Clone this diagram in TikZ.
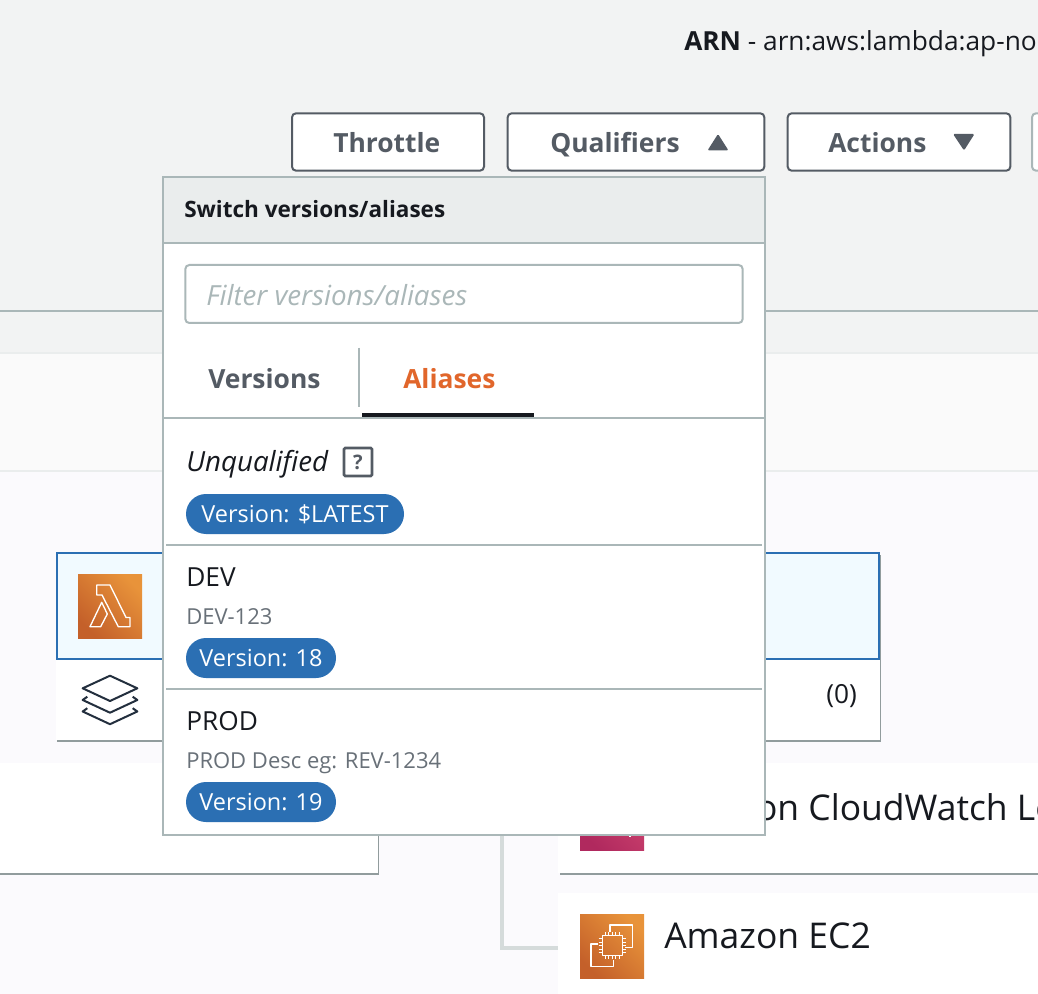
\documentclass[tikz,border=0pt]{standalone}
\usepackage{fontspec}
\setmainfont{Open Sans}
\usepackage{xcolor}
\usetikzlibrary{shadows}
\definecolor{panelgray}{HTML}{F2F3F3}
\definecolor{bandgray}{HTML}{FAFAFA}
\definecolor{lavender}{HTML}{FBFAFD}
\definecolor{edgegray}{HTML}{AAB7B8}
\definecolor{softline}{HTML}{EAEDED}
\definecolor{linkgray}{HTML}{D5DBDB}
\definecolor{shadowgray}{HTML}{7F8C8D}
\definecolor{inkdark}{HTML}{16191F}
\definecolor{inkgray}{HTML}{545B64}
\definecolor{descgray}{HTML}{687078}
\definecolor{awsblue}{HTML}{2B6FB3}
\definecolor{selblue}{HTML}{F1FAFF}
\definecolor{taborange}{HTML}{E1662B}
\definecolor{iconnavy}{HTML}{232F3E}
\definecolor{orangelo}{HTML}{C4602A}
\definecolor{orangehi}{HTML}{E8933A}
\definecolor{pinklo}{HTML}{B0295E}
\definecolor{pinkhi}{HTML}{CF4570}

\begin{document}
\begin{tikzpicture}[
  x=0.75pt, y=-0.75pt,
  txt/.style={inner sep=0pt, anchor=base west, text=inkdark},
  body/.style={txt, font=\fontsize{19.7}{23}\selectfont},
  small/.style={txt, text=descgray, font=\fontsize{16.5}{20}\selectfont},
  big/.style={txt, font=\fontsize{26.6}{32}\selectfont},
  btntxt/.style={txt, text=inkgray, font=\fontsize{19.8}{24}\selectfont\bfseries},
  btn/.style={draw=inkgray, line width=1.5pt, rounded corners=3pt, fill=white, inner sep=0pt, minimum height=43pt},
  pill/.style={fill=awsblue, text=white, rounded corners=15pt, inner sep=0pt, minimum height=30pt,
               text height=13pt, text depth=0pt, font=\fontsize{17.6}{20}\selectfont},
  card/.style={fill=white, inner sep=0pt, drop shadow={shadow xshift=1pt, shadow yshift=-1.5pt, fill=shadowgray, opacity=0.85}},
  sep/.style={edgegray, line width=1.5pt},
  glyph/.style={draw=white, line width=1pt, line join=round},
  iconorange/.style={minimum size=48pt, inner sep=0pt, bottom color=orangelo, top color=orangehi, shading angle=-45},
  iconpink/.style={minimum size=48pt, inner sep=0pt, bottom color=pinklo, top color=pinkhi, shading angle=-45}
]
\path[use as bounding box, clip] (0,0) rectangle (1038,994);

% page bands
\fill[panelgray] (0,0) rectangle (1038,353);
\fill[softline] (0,352) rectangle (1038,354);
\fill[bandgray] (0,354) rectangle (1038,470);
\fill[softline] (0,470) rectangle (1038,472);
\fill[lavender] (0,472) rectangle (1038,994);
\draw[sep] (0,311) -- (1038,311);

% header
\node[body] (arn) at (684,51) {\textbf{ARN} - arn:aws:lambda:ap-northeast-1};
\node[btn, minimum width=144pt] (throttle) at (388,142) {};
\node[btntxt] (throttletxt) at (333,152.5) {Throttle};
\node[btn, minimum width=192.5pt] (qualbtn) at (636,142) {};
\node[btntxt] (qualtxt) at (550,152.5) {Qualifiers};
\node[btn, minimum width=167pt] (actbtn) at (899,142) {};
\node[btntxt] (acttxt) at (828,152.5) {Actions};
\node[btn, draw=edgegray, minimum width=60pt] (morebtn) at (1072,142) {};
\fill[inkgray, rounded corners=1pt] (718,134) -- (728.5,150.5) -- (707.5,150.5) -- cycle;
\fill[inkgray, rounded corners=1pt] (953,134) -- (974.5,134) -- (964,150.5) -- cycle;

% function card
\node[card, minimum width=618pt, minimum height=140pt] (fncard) at (468,646.5) {};
\node[draw=awsblue, line width=1.5pt, fill=selblue, inner sep=0pt, minimum width=617pt, minimum height=79pt] (fnhead) at (468,606) {};
\node[iconorange] (lambda) at (110,606) {};
\draw[glyph] (96.7,585) -- (110,585) -- (126,617.5) -- (130,617.5) -- (130,626.7) -- (118.3,626.7) -- (102,595) -- (96.7,595) -- cycle;
\draw[glyph] (101.7,602.3) -- (107.3,614) -- (100.7,626.7) -- (90,626.7) -- cycle;
\draw[iconnavy, line width=1.5pt, line join=round] (110,675.7) -- (137.3,688.3) -- (110,701) -- (82.7,688.3) -- cycle;
\foreach \dy in {0,11.5} {
  \draw[iconnavy, line width=1.5pt, line join=round] (87.3,696.7+\dy) -- (82.7,700+\dy) -- (110,712.7+\dy) -- (137.3,700+\dy) -- (132.7,696.7+\dy);
}
\node[body] (zero) at (826,703) {(0)};

% service cards
\node[card, minimum width=300pt, minimum height=82.5pt] (leftcard) at (178,818) {};
\node[card, minimum width=400pt, minimum height=82.5pt] (logscard) at (825,818) {};
\node[card, minimum width=400pt, minimum height=82.5pt] (ec2card) at (825,948) {};
\node[iconpink] (logsicon) at (612,818) {};
\draw[white, line width=1pt] (630,835) -- (630,837);
\node[big] (logstxt) at (664,820) {Amazon CloudWatch Logs};
\node[iconorange] (ec2icon) at (612,946) {};
\node[big] (ec2txt) at (664,948) {Amazon EC2};
\draw[glyph] (610,932) -- (610,925) -- (632.7,925) -- (632.7,947.7) -- (625,947.7);
\draw[glyph] (598.3,944) -- (591,944) -- (591,966.7) -- (613.3,966.7) -- (613.3,960);
\draw[glyph, fill=none] (602.3,935.7) rectangle (622.3,955.7);
\foreach \p in {0,1,2,3,4} {
  \draw[white, line width=0.6pt] (605.3+3.5*\p,932) -- (605.3+3.5*\p,935.7);
  \draw[white, line width=0.6pt] (605.3+3.5*\p,955.7) -- (605.3+3.5*\p,959.4);
  \draw[white, line width=0.6pt] (598.6,938.7+3.5*\p) -- (602.3,938.7+3.5*\p);
  \draw[white, line width=0.6pt] (622.3,938.7+3.5*\p) -- (626,938.7+3.5*\p);
}
\coordinate (trunk) at (502,835);
\draw[linkgray, line width=3pt] (trunk) |- (ec2card.west);

% dropdown
\node[draw=edgegray, line width=1.5pt, fill=white, inner sep=0pt, minimum width=451.5pt, minimum height=493.5pt] (menu) at (464,506) {};
\node[draw=edgegray, line width=1.5pt, fill=softline, inner sep=0pt, minimum width=451.5pt, minimum height=49.5pt] (menuhead) at (464,210) {};
\node[txt, font=\fontsize{16.9}{20}\selectfont\bfseries] (menutitle) at (184,218) {Switch versions/aliases};
\node[draw=edgegray, line width=1.5pt, rounded corners=3pt, inner sep=0pt, minimum width=418pt, minimum height=43.5pt] (filterbox) at (464,294) {};
\node[txt, text=edgegray, font=\fontsize{20.8}{24}\selectfont\itshape] (filtertxt) at (206,305.5) {Filter versions/aliases};
\node[btntxt] (versions) at (208,388.5) {Versions};
\node[btntxt, text=taborange] (aliases) at (403,388.5) {Aliases};
\draw[edgegray, line width=1pt] (359,348) -- (359,407);
\draw[sep] (menu.west |- 0,418.5) -- (menu.east |- 0,418.5);
\fill[inkdark] (362,413) rectangle (534,417);

% unqualified row
\node[txt, font=\fontsize{20.8}{24}\selectfont\itshape] (unqual) at (186,471.5) {Unqualified};
\node[draw=inkgray, line width=2pt, rounded corners=1pt, inner sep=0pt, minimum size=21pt, text=inkgray, font=\fontsize{15}{18}\selectfont\bfseries] (helpbox) at (358,462) {?};
\node[pill, minimum width=163.5pt] (pilllatest) at (295,514) {Version: \$LATEST};
\draw[sep] (166,545) -- (762,545);

% dev row
\node[body] (devname) at (186,586) {DEV};
\node[small] (devdesc) at (186,624) {DEV-123};
\node[pill, minimum width=112.5pt] (pilldev) at (261,658) {Version: 18};
\draw[sep] (166,689) -- (762,689);

% prod row
\node[body] (prodname) at (186,730) {PROD};
\node[small] (proddesc) at (186,768) {PROD Desc eg: REV-1234};
\node[pill, minimum width=112.5pt] (pillprod) at (261,802) {Version: 19};
\end{tikzpicture}
\end{document}
